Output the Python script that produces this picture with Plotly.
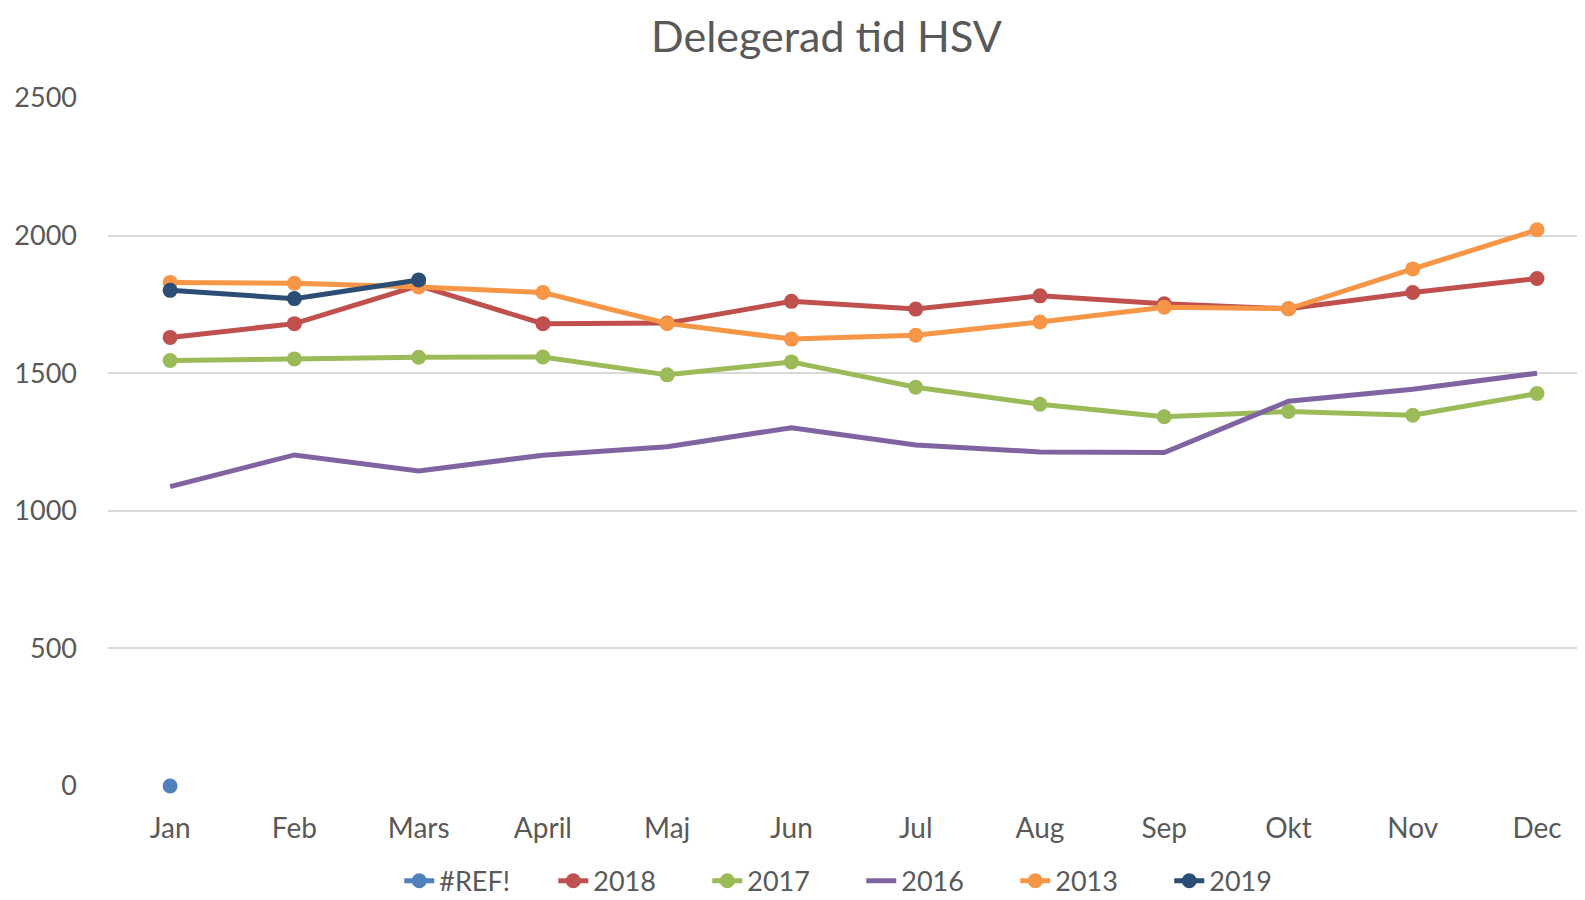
import plotly.graph_objects as go

months = ["Jan", "Feb", "Mars", "April", "Maj", "Jun", "Jul", "Aug", "Sep", "Okt", "Nov", "Dec"]
ref_vals = [0] + [None] * 11
y2018 = [1630, 1680, 1818, 1680, 1682, 1761, 1733, 1781, 1752, 1734, 1793, 1844]
y2017 = [1546, 1552, 1558, 1559, 1494, 1541, 1449, 1387, 1342, 1361, 1347, 1426]
y2016 = [1088, 1203, 1145, 1202, 1233, 1302, 1239, 1214, 1212, 1398, 1442, 1500]
y2013 = [1830, 1827, 1813, 1793, 1681, 1624, 1638, 1686, 1740, 1734, 1879, 2021]
y2019 = [1801, 1771, 1839] + [None] * 9

FONT = "Lato, 'Open Sans', sans-serif"
GREY = "#595959"

series = [
    ("#REF!", ref_vals, "#4F81BD", True),
    ("2018", y2018, "#C0504D", True),
    ("2017", y2017, "#9BBB59", True),
    ("2016", y2016, "#8064A2", False),
    ("2013", y2013, "#F79646", True),
    ("2019", y2019, "#2C4D75", True),
]

fig = go.Figure()
for name, vals, color, markers in series:
    fig.add_trace(go.Scatter(
        x=months, y=vals, name=name,
        mode="lines+markers" if markers else "lines",
        line=dict(color=color, width=5),
        marker=dict(color=color, size=15),
        cliponaxis=False,
    ))

fig.update_layout(
    width=1577, height=892,
    paper_bgcolor="white", plot_bgcolor="white",
    margin=dict(l=100, r=0, t=90, b=113.5),
    font=dict(family=FONT, color=GREY, size=27),
    title=dict(text="Delegerad tid HSV", x=0.519, xref="container", xanchor="center",
               y=0.9675, yref="container", yanchor="middle",
               font=dict(size=43, color=GREY, family=FONT)),
    showlegend=True,
    legend=dict(orientation="h", x=0.510, xanchor="center",
                yref="container", y=0.021, yanchor="middle",
                font=dict(size=27, color=GREY), itemwidth=30, entrywidth=109,
                tracegroupgap=0),
    xaxis=dict(type="category", range=[-0.5, 11.386], showgrid=False, showline=False,
               zeroline=False, ticks="", ticklabelstandoff=23,
               tickfont=dict(size=28, color=GREY)),
    yaxis=dict(range=[0, 2500], dtick=500, tick0=0, showgrid=True, gridcolor="#D9D9D9",
               gridwidth=1.5, zeroline=False, showline=False, ticks="",
               ticklabelstandoff=30, tickfont=dict(size=27, color=GREY)),
)

fig.write_html("out.html")
